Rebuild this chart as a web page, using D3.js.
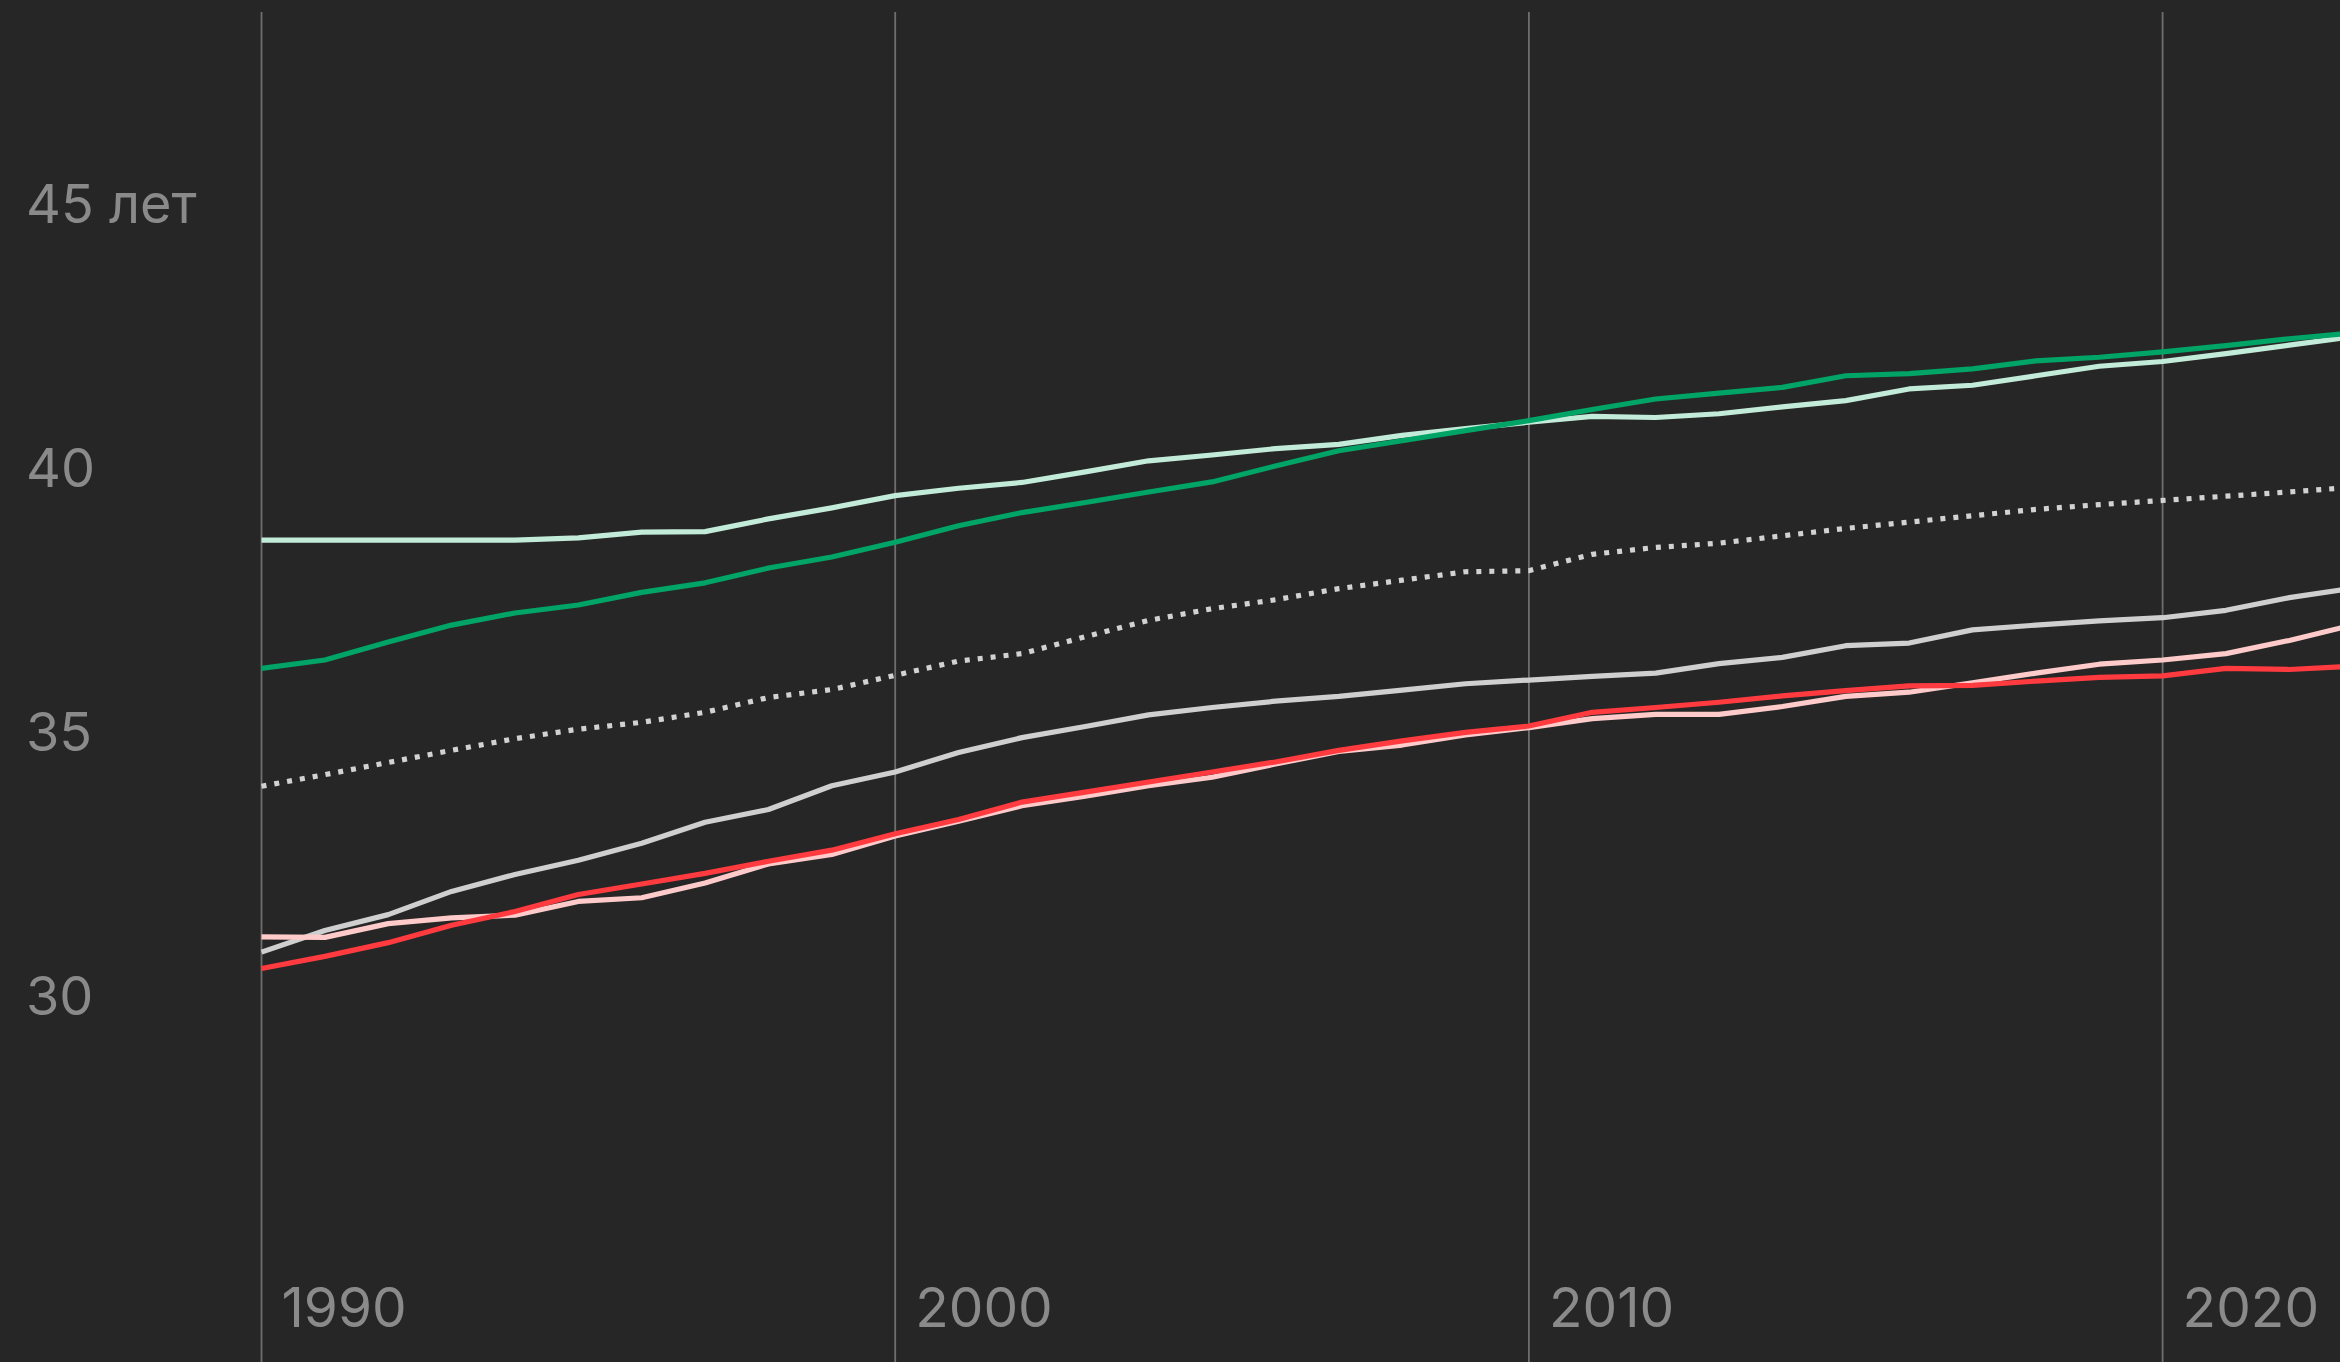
<!DOCTYPE html>
<html>
<head>
<meta charset="utf-8">
<script src="https://cdn.jsdelivr.net/npm/d3@7"></script>
<style>
  html, body { margin: 0; padding: 0; background: #262626; }
  svg { display: block; }
  text { font-family: Inter, "Noto Sans", sans-serif; }
</style>
</head>
<body>
<svg id="chart" width="2340" height="1362"></svg>
<script>
const years = [1990,1991,1992,1993,1994,1995,1996,1997,1998,1999,2000,2001,2002,2003,2004,2005,2006,2007,2008,2009,2010,2011,2012,2013,2014,2015,2016,2017,2018,2019,2020,2021,2022,2023];

const mintValues  = [38.63,38.63,38.63,38.63,38.63,38.67,38.78,38.79,39.03,39.24,39.47,39.61,39.72,39.92,40.13,40.24,40.36,40.44,40.61,40.74,40.86,40.97,40.95,41.02,41.15,41.27,41.49,41.56,41.74,41.92,42.01,42.16,42.32,42.48];
const greenValues = [36.20,36.36,36.70,37.02,37.25,37.40,37.64,37.82,38.10,38.31,38.59,38.90,39.15,39.34,39.54,39.73,40.03,40.32,40.51,40.70,40.89,41.10,41.30,41.41,41.52,41.74,41.78,41.87,42.02,42.09,42.19,42.31,42.44,42.55];
const avgValues   = [33.97,34.19,34.42,34.65,34.87,35.05,35.18,35.37,35.65,35.80,36.07,36.34,36.48,36.80,37.11,37.33,37.50,37.71,37.87,38.03,38.05,38.36,38.49,38.57,38.71,38.85,38.97,39.09,39.21,39.30,39.38,39.46,39.54,39.63];
const greyValues  = [30.83,31.24,31.54,31.98,32.30,32.57,32.89,33.29,33.53,33.98,34.24,34.61,34.89,35.10,35.32,35.46,35.58,35.67,35.79,35.91,35.98,36.05,36.11,36.29,36.41,36.63,36.68,36.93,37.02,37.10,37.16,37.30,37.54,37.72];
const pinkValues  = [31.12,31.11,31.37,31.48,31.53,31.79,31.86,32.14,32.50,32.68,33.03,33.31,33.60,33.78,33.98,34.14,34.39,34.63,34.75,34.94,35.08,35.25,35.33,35.33,35.48,35.67,35.75,35.93,36.11,36.28,36.36,36.48,36.73,37.02];
const redValues   = [30.52,30.75,31.01,31.34,31.60,31.92,32.12,32.32,32.55,32.76,33.07,33.34,33.67,33.86,34.05,34.24,34.43,34.65,34.83,34.99,35.11,35.37,35.46,35.56,35.68,35.78,35.87,35.88,35.96,36.03,36.06,36.20,36.18,36.24];

const xTicks = [1990, 2000, 2010, 2020];
const yTicks = [30, 35, 40, 45];
const yTickLabels = ["30", "35", "40", "45 лет"];

const series = [
  { name: "mint",  values: mintValues,  color: "#c2ecd9", dash: null },
  { name: "green", values: greenValues, color: "#00a466", dash: null },
  { name: "avg",   values: avgValues,   color: "#d2d2d2", dash: "5,8" },
  { name: "grey",  values: greyValues,  color: "#cfcfcf", dash: null },
  { name: "pink",  values: pinkValues,  color: "#ffcaca", dash: null },
  { name: "red",   values: redValues,   color: "#ff3b40", dash: null }
];

const svg = d3.select("#chart");
const W = 2340, H = 1362;

svg.append("rect").attr("width", W).attr("height", H).attr("fill", "#262626");

const x = d3.scaleLinear().domain([1990, 2020]).range([261.5, 2162.6]);
const y = d3.scaleLinear().domain([30, 45]).range([996, 203.5]);

// vertical grid lines + year labels
const xAxis = svg.append("g").attr("class", "x-axis");
xAxis.selectAll("line").data(xTicks).join("line")
  .attr("x1", d => x(d)).attr("x2", d => x(d))
  .attr("y1", 12).attr("y2", H)
  .attr("stroke", "#6e6e6e").attr("stroke-width", 1.8);
xAxis.selectAll("text").data(xTicks).join("text")
  .attr("x", d => x(d) + 20).attr("y", 1327)
  .attr("fill", "#8a8a8a").attr("font-size", 55)
  .attr("text-anchor", "start")
  .text(d => d);

// y labels
const yAxis = svg.append("g").attr("class", "y-axis");
yAxis.selectAll("text").data(yTicks).join("text")
  .attr("x", 26).attr("y", d => y(d))
  .attr("dy", "0.36em")
  .attr("fill", "#8a8a8a").attr("font-size", 54)
  .attr("text-anchor", "start")
  .text((d, i) => yTickLabels[i]);

const line = d3.line()
  .x((d, i) => x(years[i]))
  .y(d => y(d));

svg.append("g").selectAll("path").data(series).join("path")
  .attr("d", s => line(s.values))
  .attr("fill", "none")
  .attr("stroke", s => s.color)
  .attr("stroke-width", 5.2)
  .attr("stroke-linejoin", "round")
  .attr("stroke-dasharray", s => s.dash);
</script>
</body>
</html>
